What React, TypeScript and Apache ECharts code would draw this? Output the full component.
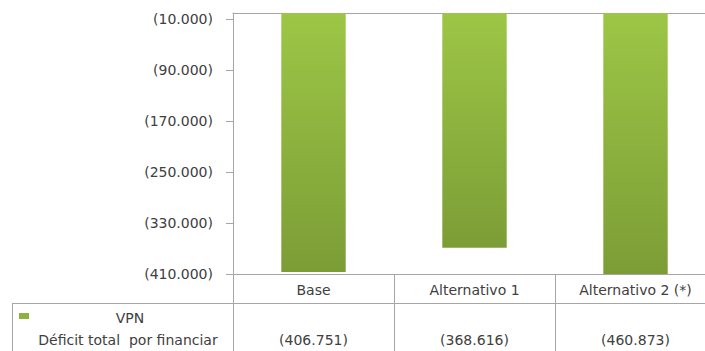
import React, { useEffect, useRef } from "react";
import * as echarts from "echarts";

const categories = ["Base", "Alternativo 1", "Alternativo 2 (*)"];
const vpnValues = [-406751, -368616, -460873];
const yTickValues = [-10000, -90000, -170000, -250000, -330000, -410000];
const seriesName = "VPN";
const seriesSubName = "Déficit total  por financiar";

const fmt = (v: number) =>
  "(" + Math.abs(v).toString().replace(/\B(?=(\d{3})+(?!\d))/g, ".") + ")";

const FONT = "DejaVu Sans";
const TXT = "#404040";
const LINE = "#a6a6a6";

export default function App() {
  const ref = useRef<HTMLDivElement>(null);
  useEffect(() => {
    document.body.style.margin = "0";
    const chart = echarts.init(ref.current!, null, { renderer: "svg" });
    chart.setOption({
      animation: false,
      textStyle: { fontFamily: FONT },
      grid: { left: 233, top: 13, right: 0, height: 261, containLabel: false },
      xAxis: [
        {
          type: "category",
          data: categories,
          position: "bottom",
          axisLine: { onZero: false, lineStyle: { color: LINE, width: 1 } },
          axisTick: {
            show: true,
            alignWithLabel: false,
            interval: 0,
            inside: false,
            length: 90,
            lineStyle: { color: LINE, width: 1 },
          },
          axisLabel: {
            interval: 0,
            margin: 4,
            formatter: (v: string, i: number) => `{a|${v}}\n{b|${fmt(vpnValues[i])}}`,
            rich: {
              a: { fontFamily: FONT, fontSize: 14, color: TXT, lineHeight: 24 },
              b: { fontFamily: FONT, fontSize: 14, color: TXT, lineHeight: 76 },
            },
          },
        },
        {
          type: "category",
          data: categories,
          position: "top",
          axisLine: { onZero: false, lineStyle: { color: LINE, width: 1 } },
          axisTick: { show: false },
          axisLabel: { show: false },
        },
      ],
      yAxis: {
        type: "value",
        min: -410000,
        max: 0,
        splitLine: { show: false },
        axisLine: { show: true, lineStyle: { color: LINE, width: 1 } },
        axisTick: { show: true, length: 7, customValues: yTickValues, lineStyle: { color: LINE } },
        axisLabel: {
          customValues: yTickValues,
          margin: 20,
          fontFamily: FONT,
          fontSize: 14,
          color: TXT,
          formatter: (v: number) => fmt(v),
        },
      },
      series: [
        {
          name: seriesName,
          type: "bar",
          data: vpnValues,
          barWidth: "40%",
          clip: true,
          itemStyle: {
            color: new echarts.graphic.LinearGradient(0, 0, 0, 1, [
              { offset: 0, color: "#9dc646" },
              { offset: 1, color: "#7c9d36" },
            ]),
          },
        },
      ],
      graphic: [
        { type: "line", shape: { x1: 12, y1: 303.5, x2: 716, y2: 303.5 }, style: { stroke: LINE, lineWidth: 1 } },
        { type: "line", shape: { x1: 12.5, y1: 303, x2: 12.5, y2: 351 }, style: { stroke: LINE, lineWidth: 1 } },
        { type: "rect", shape: { x: 19, y: 313, width: 10, height: 6 }, style: { fill: "#8db33d" } },
        {
          type: "text",
          x: 130,
          y: 318,
          style: { text: seriesName, fontFamily: FONT, fontSize: 14, fill: TXT, align: "center", verticalAlign: "middle" },
        },
        {
          type: "text",
          x: 128,
          y: 340,
          style: { text: seriesSubName, fontFamily: FONT, fontSize: 14, fill: TXT, align: "center", verticalAlign: "middle" },
        },
      ],
    });
    return () => chart.dispose();
  }, []);
  return (
    <div style={{ width: 705, height: 351, overflow: "hidden", position: "relative" }}>
      <div ref={ref} style={{ width: 716, height: 351 }} />
    </div>
  );
}
